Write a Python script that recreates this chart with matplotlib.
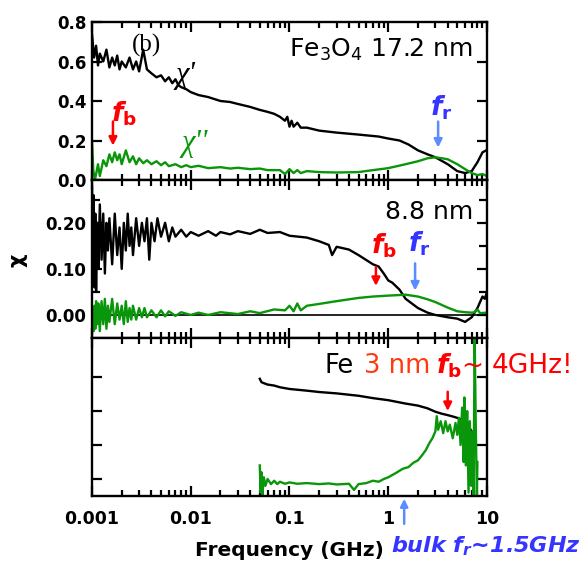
import numpy as np
import matplotlib
matplotlib.use('Agg')
import matplotlib.pyplot as plt
from matplotlib.ticker import LogLocator, NullFormatter, FixedLocator

plt.rcParams['font.family'] = ['DejaVu Sans']
plt.rcParams['mathtext.fontset'] = 'custom'
plt.rcParams['mathtext.rm'] = 'DejaVu Sans'
plt.rcParams['mathtext.it'] = 'DejaVu Sans:italic:bold'
plt.rcParams['mathtext.bf'] = 'DejaVu Sans:bold'

GREEN = '#0a960a'
RED = '#ff0000'
ORANGE = '#ff3a10'
BLUE = '#3535ff'
LBLUE = '#5a8cff'

# ---- panel 1: Fe3O4 17.2 nm ----
f1_re = [0.001, 0.00105, 0.0011, 0.00115, 0.0012, 0.0013, 0.0014, 0.0015, 0.0016, 0.0017,
         0.0018, 0.0019, 0.002, 0.0022, 0.0024, 0.0026, 0.0028, 0.003, 0.0033, 0.0036,
         0.004, 0.0045, 0.005, 0.0055, 0.006, 0.0065, 0.007, 0.0075, 0.008, 0.009,
         0.01, 0.012, 0.015, 0.02, 0.025, 0.03, 0.04, 0.05, 0.06, 0.07,
         0.08, 0.09, 0.095, 0.1, 0.105, 0.11, 0.12, 0.13, 0.15, 0.2,
         0.3, 0.5, 0.8, 1.0, 1.3, 1.6, 2.0, 2.5, 3.0, 4.0,
         5.0, 6.0, 7.0, 8.0, 9.0, 9.8]
chi_re1 = [0.74, 0.62, 0.68, 0.58, 0.64, 0.60, 0.66, 0.57, 0.62, 0.58,
           0.63, 0.56, 0.60, 0.57, 0.62, 0.56, 0.60, 0.55, 0.66, 0.56,
           0.54, 0.52, 0.53, 0.50, 0.52, 0.49, 0.51, 0.48, 0.47, 0.46,
           0.445, 0.43, 0.42, 0.40, 0.395, 0.385, 0.37, 0.355, 0.345, 0.335,
           0.32, 0.30, 0.32, 0.27, 0.30, 0.27, 0.29, 0.265, 0.265, 0.25,
           0.24, 0.23, 0.22, 0.21, 0.20, 0.18, 0.15, 0.13, 0.115, 0.08,
           0.045, 0.035, 0.045, 0.09, 0.14, 0.15]

f1_im = [0.001, 0.00103, 0.00107, 0.0011, 0.00115, 0.0012, 0.0013, 0.0014, 0.0015, 0.0016,
         0.0017, 0.0018, 0.0019, 0.002, 0.0022, 0.0024, 0.0026, 0.0028, 0.003, 0.0033,
         0.0036, 0.004, 0.0045, 0.005, 0.0055, 0.006, 0.007, 0.008, 0.009, 0.01,
         0.012, 0.015, 0.02, 0.025, 0.03, 0.04, 0.05, 0.06, 0.08, 0.09,
         0.1, 0.11, 0.12, 0.13, 0.15, 0.2, 0.3, 0.5, 0.7, 1.0,
         1.5, 2.0, 2.5, 3.0, 3.5, 4.0, 5.0, 6.0, 7.0, 8.0,
         9.0, 10.0]
chi_im1 = [0.20, 0.05, 0.0, 0.03, 0.08, 0.02, 0.10, 0.07, 0.13, 0.09,
           0.14, 0.10, 0.13, 0.08, 0.15, 0.09, 0.12, 0.08, 0.11, 0.085,
           0.10, 0.08, 0.095, 0.075, 0.09, 0.07, 0.08, 0.065, 0.075, 0.065,
           0.072, 0.06, 0.065, 0.058, 0.062, 0.055, 0.058, 0.05, 0.05, 0.03,
           0.055, 0.035, 0.05, 0.035, 0.045, 0.04, 0.038, 0.04, 0.05, 0.06,
           0.08, 0.095, 0.11, 0.115, 0.11, 0.105, 0.08, 0.055, 0.035, 0.025,
           0.03, 0.02]

# ---- panel 2: 8.8 nm ----
f2_re = [0.001, 0.00102, 0.00104, 0.00106, 0.00108, 0.0011, 0.00113, 0.00116, 0.0012, 0.00125,
         0.0013, 0.00135, 0.0014, 0.00145, 0.0015, 0.0016, 0.0017, 0.0018, 0.0019, 0.002,
         0.0021, 0.0022, 0.0023, 0.0024, 0.0025, 0.0026, 0.0028, 0.003, 0.0032, 0.0034,
         0.0036, 0.0038, 0.004, 0.0043, 0.0046, 0.005, 0.0055, 0.006, 0.0065, 0.007,
         0.008, 0.009, 0.01, 0.012, 0.015, 0.018, 0.02, 0.025, 0.03, 0.04,
         0.05, 0.06, 0.08, 0.1, 0.15, 0.2, 0.25, 0.27, 0.3, 0.4,
         0.5, 0.7, 0.8, 0.9, 1.0, 1.1, 1.3, 1.5, 2.0, 2.5,
         3.0, 4.0, 5.0, 6.0, 7.0, 8.0, 9.0, 9.5, 10.0]
chi_re2 = [0.28, 0.13, 0.26, 0.06, 0.22, 0.05, 0.20, 0.10, 0.24, 0.12,
           0.22, 0.09, 0.20, 0.14, 0.21, 0.11, 0.22, 0.13, 0.19, 0.10,
           0.20, 0.14, 0.22, 0.15, 0.19, 0.13, 0.21, 0.15, 0.20, 0.16,
           0.21, 0.12, 0.20, 0.16, 0.21, 0.17, 0.20, 0.16, 0.19, 0.17,
           0.185, 0.17, 0.18, 0.172, 0.182, 0.172, 0.18, 0.175, 0.182, 0.176,
           0.185, 0.178, 0.18, 0.172, 0.168, 0.16, 0.152, 0.13, 0.148, 0.142,
           0.13, 0.11, 0.105, 0.09, 0.075, 0.07, 0.055, 0.035, 0.015, 0.005,
           0.0, -0.005, -0.008, -0.015, -0.005, 0.015, 0.04, 0.035, 0.05]

f2_im = [0.001, 0.00102, 0.00104, 0.00106, 0.00108, 0.0011, 0.00113, 0.00116, 0.0012, 0.00125,
         0.0013, 0.00135, 0.0014, 0.00145, 0.0015, 0.0016, 0.0017, 0.0018, 0.0019, 0.002,
         0.0021, 0.0022, 0.0023, 0.0024, 0.0025, 0.0026, 0.0028, 0.003, 0.0032, 0.0034,
         0.0036, 0.004, 0.0045, 0.005, 0.0055, 0.006, 0.007, 0.008, 0.01, 0.012,
         0.015, 0.02, 0.03, 0.04, 0.05, 0.07, 0.09, 0.1, 0.11, 0.12,
         0.13, 0.15, 0.2, 0.3, 0.5, 0.7, 1.0, 1.5, 2.0, 2.5,
         3.0, 4.0, 5.0, 6.0, 7.0, 7.5, 8.0, 8.5, 10.0]
chi_im2 = [-0.04, 0.01, -0.035, 0.02, -0.03, 0.03, -0.02, 0.025, -0.035, 0.03,
           -0.02, 0.035, -0.03, 0.02, -0.015, 0.035, -0.02, 0.025, -0.01, 0.02,
           -0.02, 0.03, -0.015, 0.015, -0.01, 0.02, -0.01, 0.015, -0.005, 0.015,
           -0.005, 0.01, -0.005, 0.01, -0.003, 0.008, -0.002, 0.006, 0.0, 0.005,
           0.0, 0.006, 0.002, 0.008, 0.004, 0.012, 0.01, 0.02, 0.008, 0.025,
           0.01, 0.02, 0.024, 0.03, 0.037, 0.04, 0.042, 0.044, 0.04, 0.034,
           0.028, 0.016, 0.008, 0.006, 0.005, 0.006, 0.012, 0.004, 0.005]

# ---- panel 3: Fe 3 nm (arbitrary units) ----
f3_re = [0.05, 0.052, 0.055, 0.06, 0.07, 0.08, 0.1, 0.15, 0.2, 0.3,
         0.5, 0.7, 1.0, 1.5, 2.0, 2.5, 3.0, 3.5, 4.0, 4.5,
         5.0, 5.5, 6.0, 6.5, 7.0, 7.3, 7.5, 7.7]
chi_re3 = [3.45, 3.35, 3.32, 3.28, 3.25, 3.2, 3.15, 3.1, 3.06, 3.02,
           2.95, 2.88, 2.82, 2.72, 2.66, 2.58, 2.48, 2.42, 2.38, 2.34,
           2.3, 2.25, 2.15, 2.05, 1.9, 1.6, 1.45, 1.6]

f3_im = [0.05, 0.051, 0.052, 0.053, 0.055, 0.057, 0.06, 0.065, 0.07, 0.075,
         0.08, 0.09, 0.1, 0.12, 0.15, 0.2, 0.25, 0.3, 0.4, 0.45,
         0.5, 0.6, 0.7, 0.8, 0.9, 1.0, 1.2, 1.4, 1.6, 1.8,
         2.0, 2.2, 2.4, 2.6, 2.8, 3.0, 3.1, 3.2, 3.4, 3.6,
         3.8, 4.0, 4.2, 4.5, 4.8, 5.0, 5.2, 5.4, 5.6, 5.8,
         5.9, 6.1, 6.3, 6.5, 6.7, 6.9, 7.1, 7.3, 7.5, 7.7,
         7.9, 8.0]
chi_im3 = [0.9, 0.1, 0.7, 0.0, 0.55, 0.3, 0.5, 0.35, 0.45, 0.35,
           0.42, 0.36, 0.4, 0.36, 0.38, 0.35, 0.37, 0.34, 0.36, 0.18,
           0.35, 0.38, 0.45, 0.42, 0.5, 0.55, 0.68, 0.8, 0.85, 0.98,
           1.05, 1.2, 1.35, 1.55, 1.7, 1.9, 2.35, 1.95, 2.2, 1.85,
           2.2, 1.9, 2.1, 1.7, 2.15, 1.8, 2.3, 1.5, 2.6, 1.0,
           2.9, 0.9, 2.5, 0.1, 2.2, 0.3, 1.9, 0.0, 4.7, 2.0,
           0.0, 1.0]

W, H = 584, 563
fig = plt.figure(figsize=(W / 100, H / 100), dpi=100)


def box(top, bottom):
    return [92 / W, 1 - bottom / H, (487 - 92) / W, (bottom - top) / H]


def fx(px):
    return px / W


def fy(py):
    return 1 - py / H


ax1 = fig.add_axes(box(22, 180))
ax2 = fig.add_axes(box(180, 338))
ax3 = fig.add_axes(box(338, 496))

ax1.plot(f1_re, chi_re1, color='k', lw=1.7)
ax1.plot(f1_im, chi_im1, color=GREEN, lw=1.7)
ax2.axhline(0, color='k', lw=1.2)
ax2.plot(f2_re, chi_re2, color='k', lw=1.7)
ax2.plot(f2_im, chi_im2, color=GREEN, lw=1.7)
ax3.plot(f3_re, chi_re3, color='k', lw=1.7)
ax3.plot(f3_im, chi_im3, color=GREEN, lw=1.7)

ax1.set_ylim(0, 0.8)
ax1.set_yticks([0.0, 0.2, 0.4, 0.6, 0.8])
ax1.set_yticklabels(['0.0', '0.2', '0.4', '0.6', '0.8'])
ax2.set_ylim(-0.05, 0.293)
ax2.set_yticks([0.0, 0.1, 0.2])
ax2.set_yticklabels(['0.00', '0.10', '0.20'])
ax2.yaxis.set_minor_locator(FixedLocator([0.05, 0.15, 0.25]))
ax3.set_ylim(0, 4.65)
ax3.set_yticks([0.5, 1.5, 2.5, 3.5])
ax3.set_yticklabels([])

for ax in (ax1, ax2, ax3):
    ax.set_xscale('log')
    ax.set_xlim(0.001, 10)
    ax.xaxis.set_major_locator(LogLocator(base=10, numticks=10))
    ax.xaxis.set_minor_locator(LogLocator(base=10, subs=np.arange(2, 10), numticks=10))
    ax.xaxis.set_minor_formatter(NullFormatter())
    for s in ax.spines.values():
        s.set_linewidth(1.7)
    ax.tick_params(which='both', direction='in', top=True, right=True, width=1.6)
    ax.tick_params(which='major', length=7.5)
    ax.tick_params(which='minor', length=4.5)
    ax.tick_params(axis='y', which='minor', length=6)
    ax.tick_params(labelsize=12, pad=4)
    for lab in ax.get_yticklabels():
        lab.set_fontweight('bold')

ax1.set_xticklabels([])
ax2.set_xticklabels([])
ax3.set_xticks([0.001, 0.01, 0.1, 1, 10])
ax3.set_xticklabels(['0.001', '0.01', '0.1', '1', '10'], fontweight='bold', fontsize=12.5)
ax3.tick_params(axis='x', pad=10)

# axis labels
fig.text(fx(289), fy(551), 'Frequency (GHz)', ha='center', va='center',
         fontsize=14.5, fontweight='bold')
fig.text(fx(18), fy(260), 'χ', ha='center', va='center', rotation=90,
         fontsize=15, fontweight='bold')

# panel 1 texts
fig.text(fx(132), fy(45), '(b)', family='Liberation Serif', fontsize=18, va='center')
fig.text(fx(473), fy(57), 'Fe$_3$O$_4$ 17.2 nm', fontsize=18, ha='right', va='baseline')
fig.text(fx(175), fy(76), "χ'", family='Liberation Serif', style='italic', fontsize=22,
         va='center')
fig.text(fx(181), fy(143), "χ''", family='Liberation Serif', style='italic', fontsize=22,
         va='center', color=GREEN)
fig.text(fx(111), fy(121), '$f_\\mathbf{b}$', fontsize=19, color=RED, va='baseline')
fig.text(fx(430), fy(116), '$f_\\mathbf{r}$', fontsize=19, color=BLUE, va='baseline')
ax1.annotate('', xy=(0.00163, 0.16), xytext=(0.00163, 0.31),
             arrowprops=dict(arrowstyle='-|>', color=RED, lw=1.8, mutation_scale=12))
ax1.annotate('', xy=(3.2, 0.15), xytext=(3.2, 0.31),
             arrowprops=dict(arrowstyle='-|>', color=LBLUE, lw=1.8, mutation_scale=12))

# panel 2 texts
fig.text(fx(473), fy(219), '8.8 nm', fontsize=18, ha='right', va='baseline')
fig.text(fx(371), fy(253), '$f_\\mathbf{b}$', fontsize=19, color=RED, va='baseline')
fig.text(fx(408), fy(251), '$f_\\mathbf{r}$', fontsize=19, color=BLUE, va='baseline')
ax2.annotate('', xy=(0.75, 0.057), xytext=(0.75, 0.11),
             arrowprops=dict(arrowstyle='-|>', color=RED, lw=1.8, mutation_scale=12))
ax2.annotate('', xy=(1.87, 0.047), xytext=(1.87, 0.118),
             arrowprops=dict(arrowstyle='-|>', color=LBLUE, lw=1.8, mutation_scale=12))

# panel 3 texts
fig.text(fx(325), fy(373), 'Fe', fontsize=18.5, va='baseline')
fig.text(fx(364), fy(373), '3 nm', fontsize=18.5, va='baseline', color=ORANGE)
fig.text(fx(436), fy(373), '$f_\\mathbf{b}$', fontsize=19, va='baseline', color=RED)
fig.text(fx(461), fy(373), '~', fontsize=19, va='baseline', color=RED)
fig.text(fx(492), fy(373), '4GHz!', fontsize=19, va='baseline', color=RED)
ax3.annotate('', xy=(4.0, 2.42), xytext=(4.0, 3.15),
             arrowprops=dict(arrowstyle='-|>', color=RED, lw=1.8, mutation_scale=12))

# bulk f_r marker below the axis
ax3.annotate('', xy=(1.45, 0.0), xytext=(1.45, -0.9), annotation_clip=False,
             arrowprops=dict(arrowstyle='-|>', color=LBLUE, lw=1.8, mutation_scale=11))
fig.text(fx(391), fy(552), 'bulk $f_r$~1.5GHz', fontsize=16, fontweight='bold',
         style='italic', color=BLUE, va='baseline')

fig.savefig('out.png', dpi=100)
